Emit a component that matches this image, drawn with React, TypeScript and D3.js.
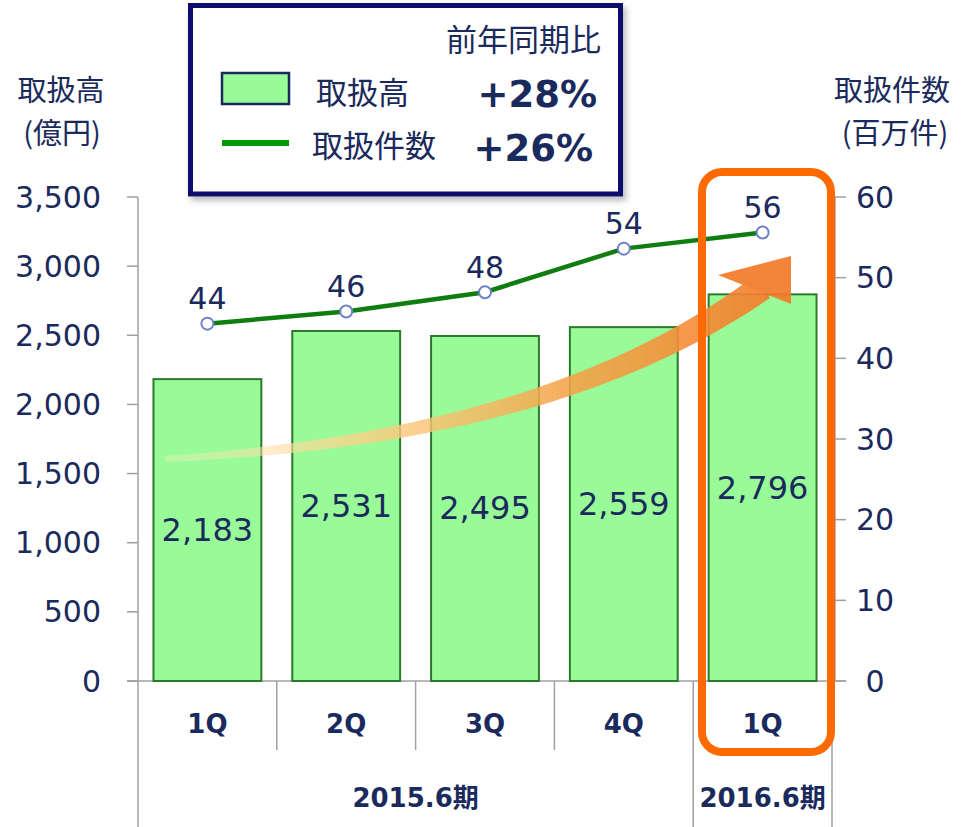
import React from 'react'
import * as d3 from 'd3'

const quarters = ['1Q', '2Q', '3Q', '4Q', '1Q ']
const periods = ['2015.6期', '2016.6期']
const amounts = [2183, 2531, 2495, 2559, 2796]
const counts = [44.3, 45.8, 48.2, 53.6, 55.6]
const leftTicks = [0, 500, 1000, 1500, 2000, 2500, 3000, 3500]
const rightTicks = [0, 10, 20, 30, 40, 50, 60]
const yoyAmount = '+28%'
const yoyCount = '+26%'

const NAVY = '#1b2a5c'
const LATIN = "'DejaVu Sans', 'Noto Sans CJK JP', sans-serif"
const CJK = "'Noto Sans CJK JP', sans-serif"

const W = 962
const H = 827
const left = 138
const right = 832
const top = 197
const bottom = 681

// point on a cubic bezier and its normal
function bez(p: number[][], t: number) {
  const u = 1 - t
  const x = u * u * u * p[0][0] + 3 * u * u * t * p[1][0] + 3 * u * t * t * p[2][0] + t * t * t * p[3][0]
  const y = u * u * u * p[0][1] + 3 * u * u * t * p[1][1] + 3 * u * t * t * p[2][1] + t * t * t * p[3][1]
  const dx = 3 * u * u * (p[1][0] - p[0][0]) + 6 * u * t * (p[2][0] - p[1][0]) + 3 * t * t * (p[3][0] - p[2][0])
  const dy = 3 * u * u * (p[1][1] - p[0][1]) + 6 * u * t * (p[2][1] - p[1][1]) + 3 * t * t * (p[3][1] - p[2][1])
  const len = Math.hypot(dx, dy)
  return { x, y, nx: -dy / len, ny: dx / len }
}

function arrowShaft() {
  const ctrl = [[165, 459], [420, 445], [620, 390], [762, 287]]
  const upper: [number, number][] = []
  const lower: [number, number][] = []
  for (let i = 0; i <= 40; i++) {
    const t = i / 40
    const b = bez(ctrl, t)
    const hw = 3 + 10.5 * t
    upper.push([b.x + b.nx * hw, b.y + b.ny * hw])
    lower.push([b.x - b.nx * hw, b.y - b.ny * hw])
  }
  const pts = upper.concat(lower.reverse())
  return 'M' + pts.map(p => p.join(',')).join('L') + 'Z'
}

export default function App() {
  const x = d3.scaleBand<string>().domain(quarters).range([left, right]).paddingInner(0.223).paddingOuter(0.1115)
  const yL = d3.scaleLinear().domain([0, 3500]).range([bottom, top])
  const yR = d3.scaleLinear().domain([0, 60]).range([bottom, top])
  const fmt = d3.format(',')
  const fmt0 = d3.format('.0f')
  const cx = (i: number) => (x(quarters[i]) as number) + x.bandwidth() / 2

  const line = d3.line<number>().x((_, i) => cx(i)).y(d => yR(d))

  const step = x.step()
  const sep = (i: number) => left + step * i

  return (
    <svg width={W} height={H} style={{ position: 'absolute', left: 0, top: 0, background: '#fff' }}>
      <defs>
        <linearGradient id="arrowGrad" gradientUnits="userSpaceOnUse" x1={165} y1={0} x2={790} y2={0}>
          <stop offset="0" stopColor="#ffeec0" stopOpacity={0.35} />
          <stop offset="0.3" stopColor="#fdd28a" stopOpacity={0.85} />
          <stop offset="0.65" stopColor="#f5a248" stopOpacity={0.95} />
          <stop offset="1" stopColor="#f47a2a" stopOpacity={1} />
        </linearGradient>
        <filter id="shadow" x="-10%" y="-10%" width="120%" height="130%">
          <feDropShadow dx="3" dy="4" stdDeviation="3" floodColor="#888" floodOpacity="0.6" />
        </filter>
      </defs>

      {/* axis titles */}
      <g fill={NAVY} fontFamily={CJK} fontSize={29} textAnchor="middle" dominantBaseline="central">
        <text x={61} y={88}>取扱高</text>
        <text x={62} y={131}>(億円)</text>
        <text x={892} y={88}>取扱件数</text>
        <text x={895} y={131}>(百万件)</text>
      </g>

      {/* axes and separators */}
      <g stroke="#a0a0a0" strokeWidth={1.5}>
        <line x1={left} x2={left} y1={top} y2={H} />
        {leftTicks.map(t => (
          <line key={t} x1={left - 11} x2={left} y1={yL(t)} y2={yL(t)} />
        ))}
        <line x1={right + 3} x2={right + 3} y1={top} y2={bottom} />
        {rightTicks.map(t => (
          <line key={t} x1={right + 3} x2={right + 14} y1={yR(t)} y2={yR(t)} />
        ))}
        <line x1={left - 11} x2={right + 14} y1={bottom} y2={bottom} />
        {[1, 2, 3].map(i => (
          <line key={i} x1={sep(i)} x2={sep(i)} y1={bottom} y2={750} />
        ))}
        <line x1={sep(4)} x2={sep(4)} y1={bottom} y2={H} />
        <line x1={right} x2={right} y1={bottom} y2={H} />
      </g>
      <g fill={NAVY} fontFamily={LATIN} fontSize={30} dominantBaseline="central">
        {leftTicks.map(t => (
          <text key={t} x={101} y={yL(t)} textAnchor="end">{fmt(t)}</text>
        ))}
        {rightTicks.map(t => (
          <text key={t} x={875} y={yR(t)} textAnchor="middle">{t}</text>
        ))}
      </g>

      {/* bars */}
      {amounts.map((v, i) => (
        <rect key={i} x={x(quarters[i])} y={yL(v)} width={x.bandwidth()} height={bottom - yL(v)}
          fill="#98fb98" stroke="#2b7a2b" strokeWidth={2} />
      ))}
      <g fill={NAVY} fontFamily={LATIN} fontSize={32} textAnchor="middle" dominantBaseline="central">
        {amounts.map((v, i) => (
          <text key={i} x={cx(i)} y={(yL(v) + bottom) / 2}>{fmt(v)}</text>
        ))}
      </g>

      {/* arrow */}
      <g opacity={0.92}>
        <path d={arrowShaft()} fill="url(#arrowGrad)" />
        <path d="M718,275 L791,256 L791,304 Z" fill="#f47a2a" />
      </g>

      {/* count line */}
      <path d={line(counts) as string} fill="none" stroke="#0f7d0f" strokeWidth={4.5} />
      {counts.map((v, i) => (
        <circle key={i} cx={cx(i)} cy={yR(v)} r={6} fill="#fff" stroke="#6f7fcc" strokeWidth={2} />
      ))}
      <g fill={NAVY} fontFamily={LATIN} fontSize={30} textAnchor="middle" dominantBaseline="central">
        {counts.map((v, i) => (
          <text key={i} x={cx(i)} y={yR(v) - 25}>{fmt0(v)}</text>
        ))}
      </g>

      {/* category labels */}
      <g fill={NAVY} fontFamily={LATIN} fontSize={26} fontWeight="bold" textAnchor="middle" dominantBaseline="central">
        {quarters.map((q, i) => (
          <text key={i} x={cx(i)} y={724}>{q.trim()}</text>
        ))}
        <text x={(sep(0) + sep(4)) / 2} y={798}>{periods[0]}</text>
        <text x={(sep(4) + right) / 2} y={798}>{periods[1]}</text>
      </g>

      {/* highlight box */}
      <rect x={702} y={172} width={129} height={580} rx={20} fill="none" stroke="#ff6a00" strokeWidth={8} />

      {/* legend */}
      <rect x={190.5} y={5.5} width={430} height={188.5} fill="#fff" stroke="#0c0c6e" strokeWidth={5} filter="url(#shadow)" />
      <g fill={NAVY} dominantBaseline="central">
        <text x={601} y={37} fontFamily={CJK} fontSize={31} textAnchor="end">前年同期比</text>
        <rect x={222} y={73} width={67} height={31} fill="#98fb98" stroke={NAVY} strokeWidth={2.5} />
        <text x={316} y={90} fontFamily={CJK} fontSize={31}>取扱高</text>
        <text x={597} y={94} fontFamily={LATIN} fontSize={37} fontWeight="bold" textAnchor="end">{yoyAmount}</text>
        <line x1={222} x2={289} y1={143} y2={143} stroke="#009900" strokeWidth={6} />
        <text x={312} y={143} fontFamily={CJK} fontSize={31}>取扱件数</text>
        <text x={593} y={148} fontFamily={LATIN} fontSize={37} fontWeight="bold" textAnchor="end">{yoyCount}</text>
      </g>
    </svg>
  )
}
